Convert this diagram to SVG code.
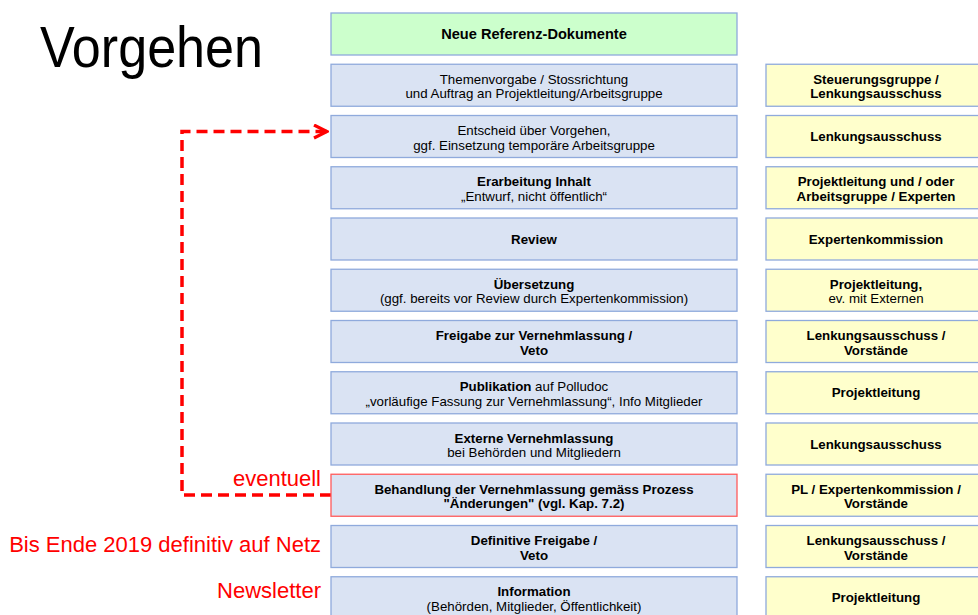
<svg xmlns="http://www.w3.org/2000/svg" width="978" height="615" viewBox="0 0 978 615">
<defs>
<style>
.box{stroke:#8faadc;stroke-width:1.3}
.blue{fill:#dae3f3}
.green{fill:#ccffcc}
.yellow{fill:#ffffcc}
.redb{stroke:#ff5b5b}
text{font-family:"Liberation Sans",Arial,sans-serif;fill:#000}
.t{font-size:13.3px;text-anchor:middle}
.b{font-weight:bold}
.big{font-size:14.6px}
.red{fill:#ff0000;font-size:22px;text-anchor:end}
.title{font-size:57px}
.con{fill:none;stroke:#ff0000;stroke-width:3.5;stroke-dasharray:11 6}
</style>
<marker id="arr" viewBox="0 0 16 16" refX="14" refY="8" markerWidth="16" markerHeight="16" markerUnits="userSpaceOnUse" orient="auto">
<path d="M1,1.5 L14,8 L1,14.5" fill="none" stroke="#ff0000" stroke-width="3.2"/>
</marker>
</defs>
<rect width="978" height="615" fill="#ffffff"/>
<text class="title" x="40" y="66.5" textLength="223" lengthAdjust="spacingAndGlyphs">Vorgehen</text>

<g id="connectors">
<path class="con" d="M331,495 H182 V131.5 H327" marker-end="url(#arr)"/>
</g>

<g id="n0"><rect class="box green" x="331" y="13" width="406" height="42"/><text class="t b big" x="534" y="39">Neue Referenz-Dokumente</text></g>
<g id="n1"><rect class="box blue" x="331" y="64.25" width="406" height="42"/><text class="t" x="534" y="83.75">Themenvorgabe / Stossrichtung</text><text class="t" x="534" y="98.25">und Auftrag an Projektleitung/Arbeitsgruppe</text></g>
<g id="n2"><rect class="box blue" x="331" y="115.5" width="406" height="42"/><text class="t" x="534" y="135">Entscheid über Vorgehen,</text><text class="t" x="534" y="149.5">ggf. Einsetzung temporäre Arbeitsgruppe</text></g>
<g id="n3"><rect class="box blue" x="331" y="166.75" width="406" height="42"/><text class="t b" x="534" y="186.25">Erarbeitung Inhalt</text><text class="t" x="534" y="200.75">„Entwurf, nicht öffentlich“</text></g>
<g id="n4"><rect class="box blue" x="331" y="218" width="406" height="42"/><text class="t b" x="534" y="243.5">Review</text></g>
<g id="n5"><rect class="box blue" x="331" y="269.25" width="406" height="42"/><text class="t b" x="534" y="288.75">Übersetzung</text><text class="t" x="534" y="303.25">(ggf. bereits vor Review durch Expertenkommission)</text></g>
<g id="n6"><rect class="box blue" x="331" y="320.5" width="406" height="42"/><text class="t b" x="534" y="340">Freigabe zur Vernehmlassung /</text><text class="t b" x="534" y="354.5">Veto</text></g>
<g id="n7"><rect class="box blue" x="331" y="371.75" width="406" height="42"/><text class="t" x="534" y="391.25"><tspan class="b">Publikation</tspan> auf Polludoc</text><text class="t" x="534" y="405.75">„vorläufige Fassung zur Vernehmlassung“,  Info Mitglieder</text></g>
<g id="n8"><rect class="box blue" x="331" y="423" width="406" height="42"/><text class="t b" x="534" y="442.5">Externe Vernehmlassung</text><text class="t" x="534" y="457">bei Behörden und Mitgliedern</text></g>
<g id="n9"><rect class="box blue redb" x="331" y="474.25" width="406" height="42"/><text class="t b" x="534" y="493.75">Behandlung der Vernehmlassung gemäss Prozess</text><text class="t b" x="534" y="508.25">"Änderungen" (vgl. Kap. 7.2)</text></g>
<g id="n10"><rect class="box blue" x="331" y="525.5" width="406" height="42"/><text class="t b" x="534" y="545">Definitive Freigabe /</text><text class="t b" x="534" y="559.5">Veto</text></g>
<g id="n11"><rect class="box blue" x="331" y="576.75" width="406" height="42"/><text class="t b" x="534" y="596.25">Information</text><text class="t" x="534" y="610.75">(Behörden, Mitglieder, Öffentlichkeit)</text></g>

<g id="r1"><rect class="box yellow" x="766" y="64.25" width="222" height="42"/><text class="t b" x="876" y="83.75">Steuerungsgruppe /</text><text class="t b" x="876" y="98.25">Lenkungsausschuss</text></g>
<g id="r2"><rect class="box yellow" x="766" y="115.5" width="222" height="42"/><text class="t b" x="876" y="141">Lenkungsausschuss</text></g>
<g id="r3"><rect class="box yellow" x="766" y="166.75" width="222" height="42"/><text class="t b" x="876" y="186.25">Projektleitung und / oder</text><text class="t b" x="876" y="200.75">Arbeitsgruppe / Experten</text></g>
<g id="r4"><rect class="box yellow" x="766" y="218" width="222" height="42"/><text class="t b" x="876" y="243.5">Expertenkommission</text></g>
<g id="r5"><rect class="box yellow" x="766" y="269.25" width="222" height="42"/><text class="t b" x="876" y="288.75">Projektleitung,</text><text class="t" x="876" y="303.25">ev. mit Externen</text></g>
<g id="r6"><rect class="box yellow" x="766" y="320.5" width="222" height="42"/><text class="t b" x="876" y="340">Lenkungsausschuss /</text><text class="t b" x="876" y="354.5">Vorstände</text></g>
<g id="r7"><rect class="box yellow" x="766" y="371.75" width="222" height="42"/><text class="t b" x="876" y="397.25">Projektleitung</text></g>
<g id="r8"><rect class="box yellow" x="766" y="423" width="222" height="42"/><text class="t b" x="876" y="448.5">Lenkungsausschuss</text></g>
<g id="r9"><rect class="box yellow" x="766" y="474.25" width="222" height="42"/><text class="t b" x="876" y="493.75">PL / Expertenkommission /</text><text class="t b" x="876" y="508.25">Vorstände</text></g>
<g id="r10"><rect class="box yellow" x="766" y="525.5" width="222" height="42"/><text class="t b" x="876" y="545">Lenkungsausschuss /</text><text class="t b" x="876" y="559.5">Vorstände</text></g>
<g id="r11"><rect class="box yellow" x="766" y="576.75" width="222" height="42"/><text class="t b" x="876" y="602.25">Projektleitung</text></g>

<g id="notes">
<text class="red" x="321" y="486">eventuell</text>
<text class="red" x="321" y="551.5">Bis Ende 2019 definitiv auf Netz</text>
<text class="red" x="321" y="598">Newsletter</text>
</g>
</svg>
